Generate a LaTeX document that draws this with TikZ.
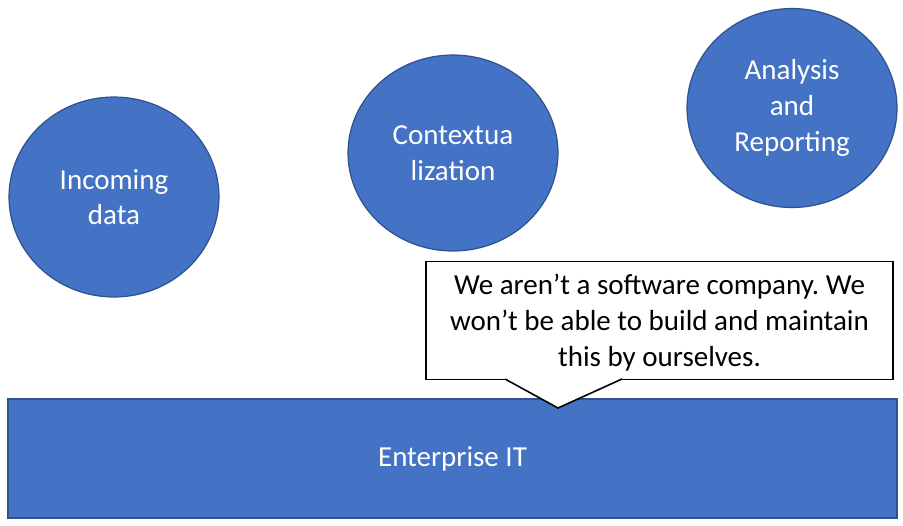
\documentclass[tikz,border=0pt]{standalone}
\usepackage{fontspec}
\setmainfont{Carlito}
\usetikzlibrary{shapes.geometric}
\definecolor{blueFill}{HTML}{4472C4}
\definecolor{blueLine}{HTML}{2F528F}
\frenchspacing
\begin{document}
\begin{tikzpicture}[x=0.02cm,y=-0.02cm,font=\fontsize{16.5}{20.3}\selectfont,
	bubble/.style={ellipse,fill=blueFill,draw=blueLine,line width=0.7pt,text=white,align=center,inner sep=0pt},
	base/.style={rectangle,fill=blueFill,draw=blueLine,line width=1.2pt,text=white,minimum width=17.78cm,minimum height=2.38cm},
	note/.style={rectangle,fill=white,draw=black,line width=0.9pt,align=center,minimum width=9.34cm,minimum height=2.36cm}]
	\useasboundingbox (0,0) rectangle (903,525);
	\node[bubble,minimum width=4.2cm,minimum height=4cm] (incoming) at (114,197) {Incoming\\data};
	\node[bubble,minimum width=4.2cm,minimum height=3.92cm] (context) at (453,153) {Contextua\\lization};
	\node[bubble,minimum width=4.2cm,minimum height=3.98cm] (analysis) at (792,108) {Analysis\\and\\Reporting};
	\node[base] (it) at (452.5,458.5) {Enterprise IT};
	\node[note] (quote) at (659.5,320.5) {};
	\node[align=center] (quotetext) at (659.5,322.5) {We aren’t a software company. We\\won’t be able to build and maintain\\this by ourselves.};
	\coordinate (tip) at (558,408);
	\fill[white] (505,378) -- (tip) -- (622,378) -- cycle;
	\draw[line width=0.9pt,line join=miter] (505,379) -- (tip) -- (622,379);
\end{tikzpicture}
\end{document}
